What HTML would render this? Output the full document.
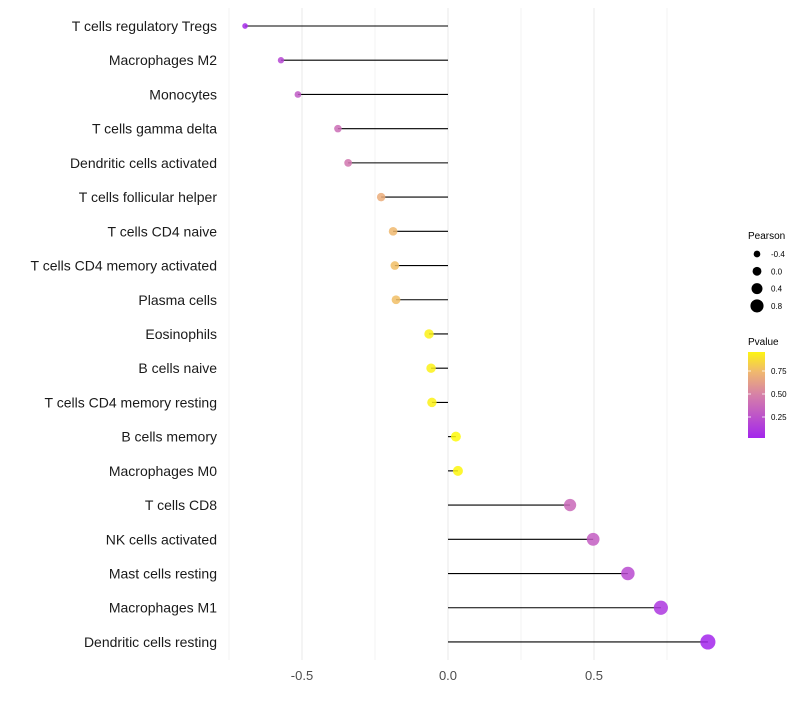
<!DOCTYPE html>
<html><head><meta charset="utf-8"><style>
body{margin:0;background:#fff;font-family:"Liberation Sans",sans-serif}
</style></head><body>
<svg id="c" width="800" height="700" xmlns="http://www.w3.org/2000/svg"></svg>
<script>
const categories=["T cells regulatory  Tregs","Macrophages M2","Monocytes","T cells gamma delta","Dendritic cells activated","T cells follicular helper","T cells CD4 naive","T cells CD4 memory activated","Plasma cells","Eosinophils","B cells naive","T cells CD4 memory resting","B cells memory","Macrophages M0","T cells CD8","NK cells activated","Mast cells resting","Macrophages M1","Dendritic cells resting"];
const pearson=[-0.695,-0.572,-0.514,-0.377,-0.342,-0.229,-0.188,-0.182,-0.178,-0.065,-0.058,-0.055,0.027,0.034,0.418,0.497,0.616,0.729,0.890];
const pvalue=[0.05,0.2,0.3,0.4,0.45,0.7,0.75,0.77,0.77,0.95,0.95,0.95,0.98,0.97,0.38,0.32,0.22,0.12,0.03];
const xTicks=[-0.5,0,0.5];
const xTickLabels=["-0.5","0.0","0.5"];
const sizeLegend=[-0.4,0.0,0.4,0.8];
const pTicks=[0.25,0.5,0.75];
const NS="http://www.w3.org/2000/svg";
const svg=document.getElementById('c');
function el(t,a,p){const e=document.createElementNS(NS,t);for(const k in a)e.setAttribute(k,a[k]);(p||svg).appendChild(e);return e;}
const xs=v=>448+v*292;
const ys=i=>26+i*34.22;
const rs=v=>Math.max(1.6,4.9+3*v);
function col(p){const stops=[[0,[160,32,240]],[0.5,[214,128,168]],[0.75,[240,184,110]],[1,[255,255,0]]];
for(let i=1;i<stops.length;i++){if(p<=stops[i][0]){const [a,ca]=stops[i-1],[b,cb]=stops[i];const t=(p-a)/(b-a);return `rgb(${ca.map((c,j)=>Math.round(c+(cb[j]-c)*t)).join(',')})`;}}return 'rgb(255,255,0)';}
// grid
const grid=el('g',{});
for(let v=-0.75;v<=1.0;v+=0.25){if(xs(v)>725)break;const l=el('line',{x1:xs(v),x2:xs(v),y1:8,y2:660,stroke:'#ebebeb','stroke-width':v*4%2===0?1.1:0.6},grid);}
// ticks
xTicks.forEach((v,i)=>{const t=el('text',{x:xs(v),y:680,'text-anchor':'middle','font-size':13,fill:'#4d4d4d'});t.textContent=xTickLabels[i];});
categories.forEach((c,i)=>{const y=ys(i);
const t=el('text',{x:217,y:y+5,'text-anchor':'end','font-size':14,fill:'#1a1a1a'});t.textContent=c;
const l=el('line',{x1:xs(0),x2:xs(pearson[i]),y1:y,y2:y,stroke:'#000','stroke-width':1.1});
const d=el('circle',{cx:xs(pearson[i]),cy:y,r:rs(pearson[i]),fill:col(pvalue[i]),'fill-opacity':0.85});});
// legend size
const lt=el('text',{x:748,y:239,'font-size':10,fill:'#000'});lt.textContent='Pearson';
sizeLegend.forEach((v,i)=>{const y=254+i*17.3;const c=el('circle',{cx:757,cy:y,r:rs(v)*0.9,fill:'#000'});
const t=el('text',{x:771,y:y+3,'font-size':8,fill:'#000'});t.textContent=v.toFixed(1);});
// colorbar
const pt=el('text',{x:748,y:345,'font-size':10,fill:'#000'});pt.textContent='Pvalue';
const defs=el('defs',{});const g=el('linearGradient',{id:'pg',x1:0,y1:1,x2:0,y2:0},defs);
[[0,col(0.03)],[0.5,col(0.5)],[0.77,col(0.75)],[1,col(0.96)]].forEach(s=>el('stop',{offset:s[0],'stop-color':s[1]},g));
const bar=el('rect',{x:748,y:352,width:17,height:86,fill:'url(#pg)'});
const py=p=>440-p*92;
pTicks.forEach(p=>{el('line',{x1:748,x2:751,y1:py(p),y2:py(p),stroke:'#fff','stroke-width':0.8});el('line',{x1:762,x2:765,y1:py(p),y2:py(p),stroke:'#fff','stroke-width':0.8});
const t=el('text',{x:771,y:py(p)+3,'font-size':8,fill:'#000'});t.textContent=p.toFixed(2);});
</script>
</body></html>
